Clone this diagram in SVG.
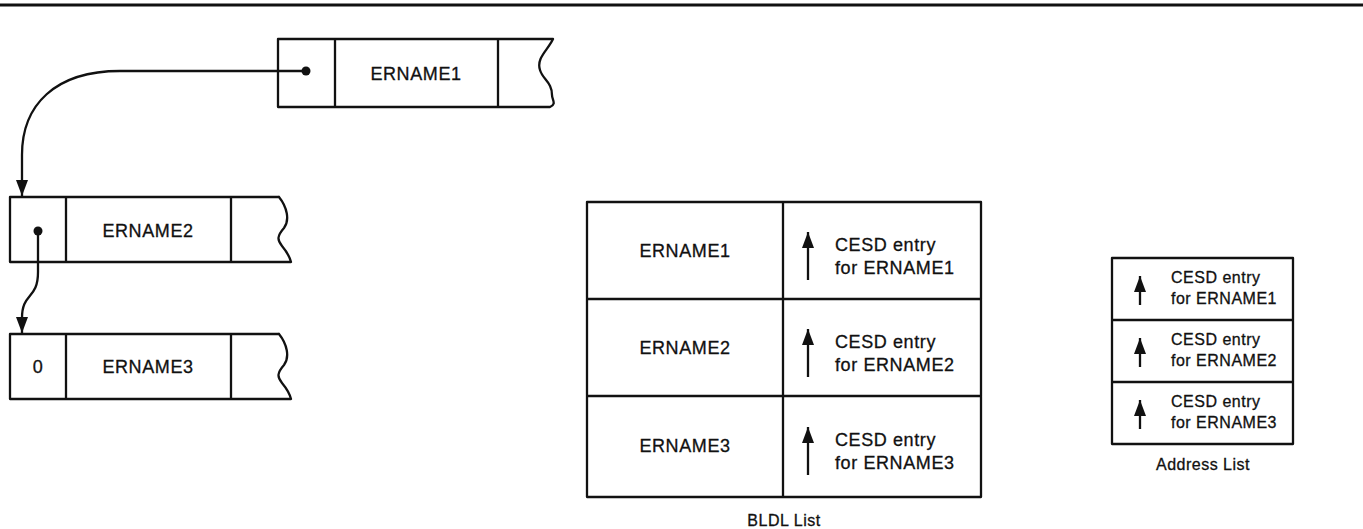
<svg xmlns="http://www.w3.org/2000/svg" width="1363" height="529" viewBox="0 0 1363 529">
<defs>
<style>
.b{fill:none;stroke:#111;stroke-width:2.3;stroke-linejoin:round;stroke-linecap:round}
.t{font-family:"Liberation Sans",Arial,sans-serif;font-size:18px;fill:#111;stroke:#111;stroke-width:0.3;letter-spacing:0.6px}
.s{font-family:"Liberation Sans",Arial,sans-serif;font-size:16px;fill:#111;stroke:#111;stroke-width:0.3;letter-spacing:0.5px}
.c{fill:none;stroke:#111;stroke-width:2.3}
</style>
<marker id="ah" viewBox="0 0 16 12" refX="16" refY="6" markerWidth="16" markerHeight="12" markerUnits="userSpaceOnUse" orient="auto">
<path d="M0,0 L16,6 L0,12 Z" fill="#111"/>
</marker>
<marker id="up" viewBox="0 0 12 16" refX="6" refY="0" markerWidth="12" markerHeight="16" markerUnits="userSpaceOnUse" orient="0">
<path d="M6,0 L12,16 L0,16 Z" fill="#111"/>
</marker>
</defs>
<rect width="1363" height="529" fill="#fff"/>
<line x1="0" y1="5" x2="1363" y2="5" stroke="#111" stroke-width="3"/>

<g id="ername1">
<path class="b" d="M553,39 H278 V107 H550 M335,39 V107 M498,39 V107 M553,39 C548,50 536,58 540,70 C543,80 552,82 552,95 C552,100 557,104 550,107"/>
<circle cx="306" cy="71" r="4.5" fill="#111"/>
<text class="t" x="416" y="80" text-anchor="middle">ERNAME1</text>
</g>

<g id="ername2">
<path class="b" d="M279,197 H10 V262 H291 M66,197 V262 M231,197 V262 M279,197 C287,207 290,220 284,228 C277,236 277,240 282,246 C287,252 290,258 291,262"/>
<circle cx="38" cy="231" r="4.5" fill="#111"/>
<text class="t" x="148" y="237" text-anchor="middle">ERNAME2</text>
</g>

<g id="ername3">
<path class="b" d="M279,334 H10 V399 H291 M66,334 V399 M231,334 V399 M279,334 C287,344 290,357 284,365 C277,373 277,377 282,383 C287,389 290,395 291,399"/>
<text class="t" x="38" y="373" text-anchor="middle">0</text>
<text class="t" x="148" y="373" text-anchor="middle">ERNAME3</text>
</g>

<g id="connectors">
<path class="c" d="M306,71 L120,71 C55,71 22,105 22,155 L22,196" marker-end="url(#ah)"/>
<path class="c" d="M38,231 L38,272 C38,300 22,292 22,318 L22,333" marker-end="url(#ah)"/>
</g>

<g id="bldl">
<path class="b" d="M587,202 H981 V497 H587 Z M783,202 V497 M587,299 H981 M587,396 H981"/>
<text class="t" x="685" y="257" text-anchor="middle">ERNAME1</text>
<text class="t" x="685" y="354" text-anchor="middle">ERNAME2</text>
<text class="t" x="685" y="452" text-anchor="middle">ERNAME3</text>
<line class="c" x1="808" y1="232" x2="808" y2="280" marker-start="url(#up)"/>
<line class="c" x1="808" y1="329" x2="808" y2="377" marker-start="url(#up)"/>
<line class="c" x1="808" y1="427" x2="808" y2="475" marker-start="url(#up)"/>
<text class="t" x="835" y="251">CESD entry</text>
<text class="t" x="835" y="274">for ERNAME1</text>
<text class="t" x="835" y="348">CESD entry</text>
<text class="t" x="835" y="371">for ERNAME2</text>
<text class="t" x="835" y="446">CESD entry</text>
<text class="t" x="835" y="469">for ERNAME3</text>
<text class="s" x="784" y="526" text-anchor="middle">BLDL List</text>
</g>

<g id="address">
<path class="b" d="M1112,258 H1293 V444 H1112 Z M1112,320 H1293 M1112,382 H1293"/>
<line class="c" x1="1140" y1="276" x2="1140" y2="305" marker-start="url(#up)"/>
<line class="c" x1="1140" y1="338" x2="1140" y2="367" marker-start="url(#up)"/>
<line class="c" x1="1140" y1="400" x2="1140" y2="429" marker-start="url(#up)"/>
<text class="s" x="1171" y="283">CESD entry</text>
<text class="s" x="1171" y="304">for ERNAME1</text>
<text class="s" x="1171" y="345">CESD entry</text>
<text class="s" x="1171" y="366">for ERNAME2</text>
<text class="s" x="1171" y="407">CESD entry</text>
<text class="s" x="1171" y="428">for ERNAME3</text>
<text class="s" x="1203" y="470" text-anchor="middle">Address List</text>
</g>
</svg>
